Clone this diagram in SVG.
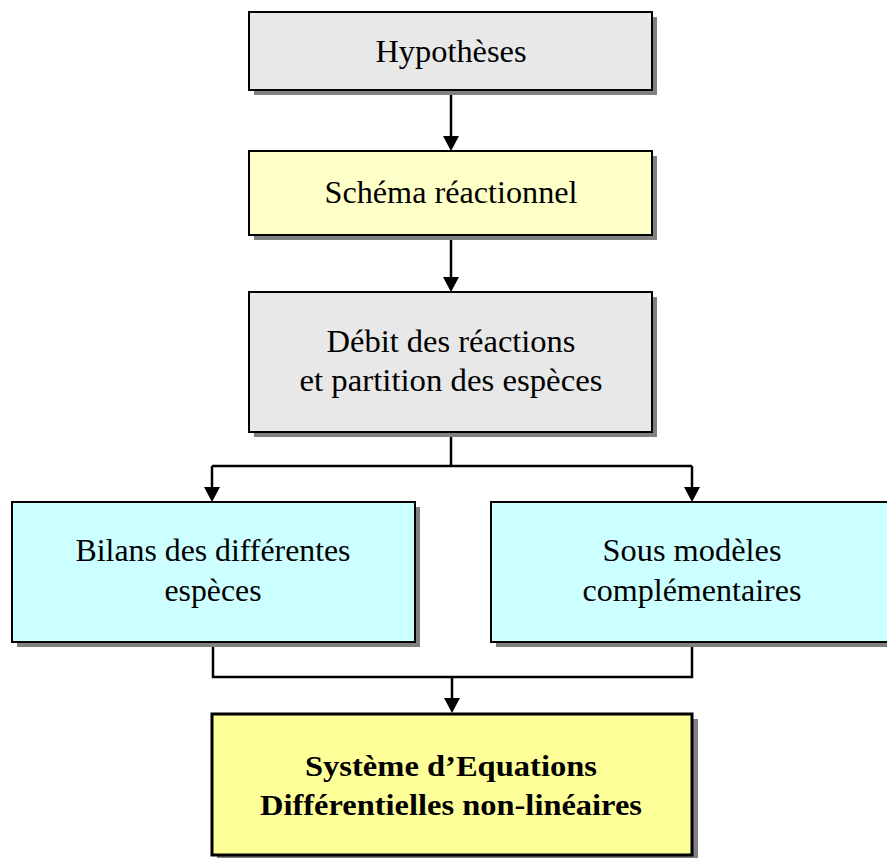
<svg xmlns="http://www.w3.org/2000/svg" width="887" height="858" viewBox="0 0 887 858">
<style>
.shadow{fill:#808080;stroke:none}
.box{stroke:#000;stroke-width:2}
.gray{fill:#E8E8E8}
.lyel{fill:#FFFFC8}
.cyan{fill:#CCFFFF}
.t{font-family:'Liberation Serif',serif;font-size:32px;fill:#000;text-anchor:middle}
.b{font-family:'Liberation Serif',serif;font-size:29.5px;font-weight:bold;fill:#000;text-anchor:middle}
.c{fill:none;stroke:#000;stroke-width:2.5}
.ah{fill:#000}
</style>
<g id="connectors">
<path class="c" d="M451,91 V137"/>
<path class="ah" d="M443,136 L459,136 L451,151 z"/>
<path class="c" d="M451,236 V278"/>
<path class="ah" d="M443,277 L459,277 L451,292 z"/>
<path class="c" d="M451,433 V466 M212,466 H692 M212,466 V488 M692,466 V488"/>
<path class="ah" d="M204,487 L220,487 L212,502 z"/>
<path class="ah" d="M684,487 L700,487 L692,502 z"/>
<path class="c" d="M213,643 V677 H692 V643 M452,677 V699"/>
<path class="ah" d="M444,698 L460,698 L452,713 z"/>
</g>
<g id="n1">
<rect class="shadow" x="254" y="17" width="403" height="78"/>
<rect class="box gray" x="249" y="12" width="403" height="78"/>
<text class="t" x="451" y="62" textLength="151" lengthAdjust="spacingAndGlyphs">Hypothèses</text>
</g>
<g id="n2">
<rect class="shadow" x="254" y="156" width="403" height="84"/>
<rect class="box lyel" x="249" y="151" width="403" height="84"/>
<text class="t" x="451" y="203" textLength="253" lengthAdjust="spacingAndGlyphs">Schéma réactionnel</text>
</g>
<g id="n3">
<rect class="shadow" x="254" y="297" width="403" height="140"/>
<rect class="box gray" x="249" y="292" width="403" height="140"/>
<text class="t" x="451" y="352" textLength="249" lengthAdjust="spacingAndGlyphs">Débit des réactions</text>
<text class="t" x="451" y="391" textLength="303" lengthAdjust="spacingAndGlyphs">et partition des espèces</text>
</g>
<g id="n4">
<rect class="shadow" x="17" y="507" width="403" height="140"/>
<rect class="box cyan" x="12" y="502" width="403" height="140"/>
<text class="t" x="213" y="561" textLength="275" lengthAdjust="spacingAndGlyphs">Bilans des différentes</text>
<text class="t" x="213" y="601" textLength="97" lengthAdjust="spacingAndGlyphs">espèces</text>
</g>
<g id="n5">
<rect class="shadow" x="496" y="507" width="403" height="140"/>
<rect class="box cyan" x="491" y="502" width="403" height="140"/>
<text class="t" x="692" y="561" textLength="179" lengthAdjust="spacingAndGlyphs">Sous modèles</text>
<text class="t" x="692" y="601" textLength="219" lengthAdjust="spacingAndGlyphs">complémentaires</text>
</g>
<g id="n6">
<rect class="shadow" x="217" y="719" width="481" height="142"/>
<rect x="212" y="714" width="480" height="141" fill="#FFFF99" stroke="#000" stroke-width="3"/>
<text class="b" x="451" y="776" textLength="292" lengthAdjust="spacingAndGlyphs">Système d’Equations</text>
<text class="b" x="451" y="815" textLength="382" lengthAdjust="spacingAndGlyphs">Différentielles non-linéaires</text>
</g>
</svg>
